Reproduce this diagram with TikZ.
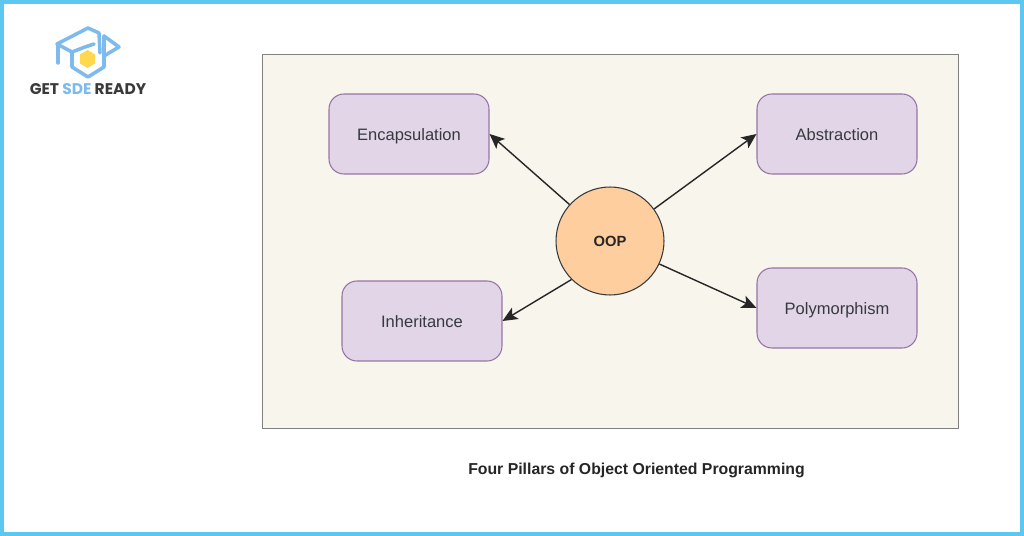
\documentclass[tikz,border=0pt]{standalone}
\usepackage{fontspec}
\setmainfont{Liberation Sans}
\newfontfamily\logofont{Poppins}
\usetikzlibrary{arrows.meta}
\definecolor{framecol}{HTML}{5CC8F0}
\definecolor{panelcol}{HTML}{F8F5EC}
\definecolor{pillarcol}{HTML}{E1D5E7}
\definecolor{pillarline}{HTML}{9673A6}
\definecolor{oopcol}{HTML}{FFCE9F}
\definecolor{inkcol}{HTML}{36393D}
\definecolor{logoblue}{HTML}{7DBBEE}
\definecolor{logoyellow}{HTML}{FFD84D}
\definecolor{logotext}{HTML}{3A3A3A}
\tikzset{
	pillar/.style={draw=pillarline, fill=pillarcol, rounded corners=8.5pt, line width=0.6pt,
		minimum width=3.2cm, minimum height=1.6cm, inner sep=0pt, text=inkcol,
		text height=1.4ex, text depth=0pt, font=\fontsize{9.4}{11}\selectfont},
	link/.style={-{Stealth[length=8.5pt,width=7.5pt,inset=2pt]}, line width=0.8pt, black!85},
	logoline/.style={draw=logoblue, line width=2pt, line join=round, line cap=round}
}
\begin{document}
\begin{tikzpicture}[x=0.02cm,y=-0.02cm]
	\useasboundingbox (0,0) rectangle (1024,536);
	\fill[white] (0,0) rectangle (1024,536);
	\draw[framecol, line width=0.08cm] (2,2) rectangle (1022,534);

	%Logo
	\draw[logoline] (57,44) -- (88,28) -- (99,33) -- (100,53);
	\draw[logoline] (104,36) -- (119,47) -- (104,56);
	\draw[logoline] (57,44) -- (72,52) -- (85,47) -- (94,44);
	\draw[logoline] (72,53) -- (72,67) -- (88,77) -- (104,67) -- (104,36);
	\draw[logoline] (58,45) -- (58,63);
	\fill[logoyellow] (87.5,50) -- (95,54.5) -- (95,63.5) -- (87.5,68) -- (80,63.5) -- (80,54.5) -- cycle;
	\node[font=\logofont\bfseries\fontsize{8.8}{10}\selectfont, text=logotext] (brand) at (88,89.5)
		{GET \textcolor{logoblue}{SDE} READY};

	%Nodes
	\fill[panelcol, draw=black!50, line width=0.5pt] (262,54) rectangle (958,428);
	\node[circle, draw=inkcol, fill=oopcol, line width=0.6pt, minimum size=2.16cm, inner sep=0pt,
		font=\bfseries\fontsize{8.4}{10}\selectfont, text=black!85] (oop) at (610,241) {OOP};
	\node[pillar] (encapsulation) at (409,134) {Encapsulation};
	\node[pillar] (abstraction) at (837,134) {Abstraction};
	\node[pillar] (inheritance) at (422,321) {Inheritance};
	\node[pillar] (polymorphism) at (837,308) {Polymorphism};
	\node[font=\bfseries\fontsize{9}{10}\selectfont, text=black!85, text height=1.4ex, text depth=0pt] (caption) at (636.5,468.5)
		{Four Pillars of Object Oriented Programming};

	%Lines
	\draw[link] (oop.138) -- (encapsulation.east);
	\draw[link] (oop.36) -- (abstraction.west);
	\draw[link] (oop.225) -- (inheritance.east);
	\draw[link] (oop.335) -- (polymorphism.west);
\end{tikzpicture}
\end{document}
